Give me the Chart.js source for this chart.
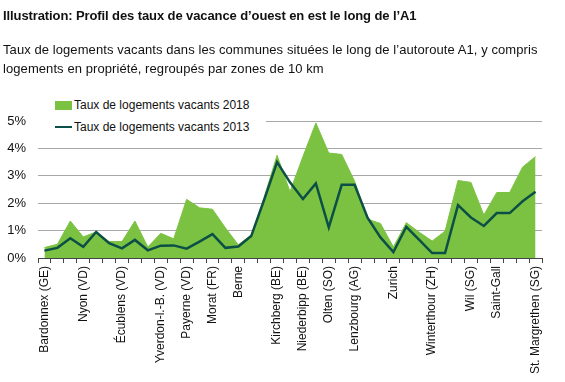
<!DOCTYPE html>
<html>
<head>
<meta charset="utf-8">
<script src="https://cdn.jsdelivr.net/npm/chart.js@4/dist/chart.umd.min.js"></script>
<style>
  html, body { margin: 0; padding: 0; background: #fff; }
  body { width: 565px; height: 382px; position: relative; overflow: hidden;
         font-family: "Liberation Sans", Arial, sans-serif; color: #111; }
  #title { position: absolute; left: 3px; top: 8px; font-size: 13px; font-weight: bold;
           line-height: 15px; letter-spacing: -0.1px; white-space: nowrap; }
  #subtitle { position: absolute; left: 3px; top: 41px; font-size: 13px; line-height: 18.5px;
              letter-spacing: 0.08px; white-space: nowrap; }
  #chart { position: absolute; left: 0; top: 0; }
  #legend { position: absolute; left: 38px; top: 95px; width: 228px; height: 42px; background: #fff; }
  .lg { position: absolute; left: 36px; font-size: 12px; line-height: 14px; white-space: nowrap; color: #111; }
  .sw { position: absolute; left: 17px; width: 17px; }
</style>
</head>
<body>
<canvas id="chart" width="565" height="382"></canvas>
<div id="title">Illustration: Profil des taux de vacance d’ouest en est le long de l’A1</div>
<div id="subtitle">Taux de logements vacants dans les communes situées le long de l’autoroute A1, y compris<br>logements en propriété, regroupés par zones de 10 km</div>
<div id="legend"></div>
<script>
const categories = [
  "Bardonnex (GE)", "", "", "Nyon (VD)", "", "", "Écublens (VD)", "", "", "Yverdon-l.-B. (VD)",
  "", "Payerne (VD)", "", "Morat (FR)", "", "Berne", "", "", "Kirchberg (BE)", "",
  "Niederbipp (BE)", "", "Olten (SO)", "", "Lenzbourg (AG)", "", "", "Zurich", "", "",
  "Winterthour (ZH)", "", "", "Wil (SG)", "", "Saint-Gall", "", "", "St. Margrethen (SG)"
];
const vacant2018 = [
  0.38, 0.50, 1.35, 0.77, 0.95, 0.60, 0.60, 1.35, 0.40, 0.90,
  0.70, 2.14, 1.83, 1.78, 1.10, 0.48, 0.84, 2.22, 3.75, 2.42,
  3.70, 4.93, 3.83, 3.78, 2.80, 1.42, 1.26, 0.40, 1.29, 0.94,
  0.62, 0.98, 2.83, 2.76, 1.57, 2.39, 2.39, 3.32, 3.70
];
const vacant2013 = [
  0.27, 0.37, 0.72, 0.41, 0.95, 0.54, 0.35, 0.66, 0.28, 0.45,
  0.46, 0.34, 0.60, 0.87, 0.37, 0.42, 0.80, 2.12, 3.50, 2.76,
  2.15, 2.72, 1.12, 2.67, 2.67, 1.47, 0.75, 0.22, 1.14, 0.66,
  0.18, 0.18, 1.93, 1.48, 1.17, 1.64, 1.64, 2.07, 2.42
];
const yTicks = [0, 1, 2, 3, 4, 5];
const seriesNames = ["Taux de logements vacants 2018", "Taux de logements vacants 2013"];
const colors = { area: "#7cc242", line: "#0c4f46", grid: "#a8a8a8", axis: "#444", text: "#111" };

// legend (HTML)
const lg = document.getElementById("legend");
lg.innerHTML =
  '<div class="sw" style="top:5.5px;height:9px;background:' + colors.area + '"></div>' +
  '<div class="lg" style="top:3px">' + seriesNames[0] + '</div>' +
  '<div class="sw" style="top:30.5px;height:2px;background:' + colors.line + '"></div>' +
  '<div class="lg" style="top:24.5px">' + seriesNames[1] + '</div>';

new Chart(document.getElementById("chart"), {
  type: "line",
  data: {
    labels: categories,
    datasets: [
      { label: seriesNames[1], data: vacant2013, borderColor: colors.line, borderWidth: 2.5,
        pointRadius: 0, fill: false, tension: 0, borderJoinStyle: "miter" },
      { label: seriesNames[0], data: vacant2018, borderColor: colors.area, backgroundColor: colors.area,
        borderWidth: 1, pointRadius: 0, fill: "origin", tension: 0 }
    ]
  },
  options: {
    responsive: false,
    animation: false,
    devicePixelRatio: 1,
    layout: { padding: { left: 0, right: 23, top: 121, bottom: 0 } },
    plugins: { legend: { display: false }, tooltip: { enabled: false }, title: { display: false } },
    scales: {
      x: {
        type: "category",
        offset: true,
        grid: { offset: true, drawOnChartArea: false, drawTicks: true, tickLength: 5, color: colors.axis },
        border: { display: true, color: colors.axis, width: 1 },
        ticks: { autoSkip: false, maxRotation: 90, minRotation: 90, padding: 3,
                 color: colors.text, font: { family: "Liberation Sans", size: 12 } },
        afterFit: (s) => { s.height = 124; }
      },
      y: {
        min: 0, max: 5,
        afterBuildTicks: (s) => { s.ticks = yTicks.map(v => ({ value: v })); },
        grid: { color: colors.grid, drawTicks: false, lineWidth: 1 },
        border: { display: false },
        ticks: { padding: 12, color: colors.text, font: { family: "Liberation Sans", size: 13 },
                 callback: (v) => v + "%" },
        afterFit: (s) => { s.width = 38; }
      }
    }
  }
});
</script>
</body>
</html>
